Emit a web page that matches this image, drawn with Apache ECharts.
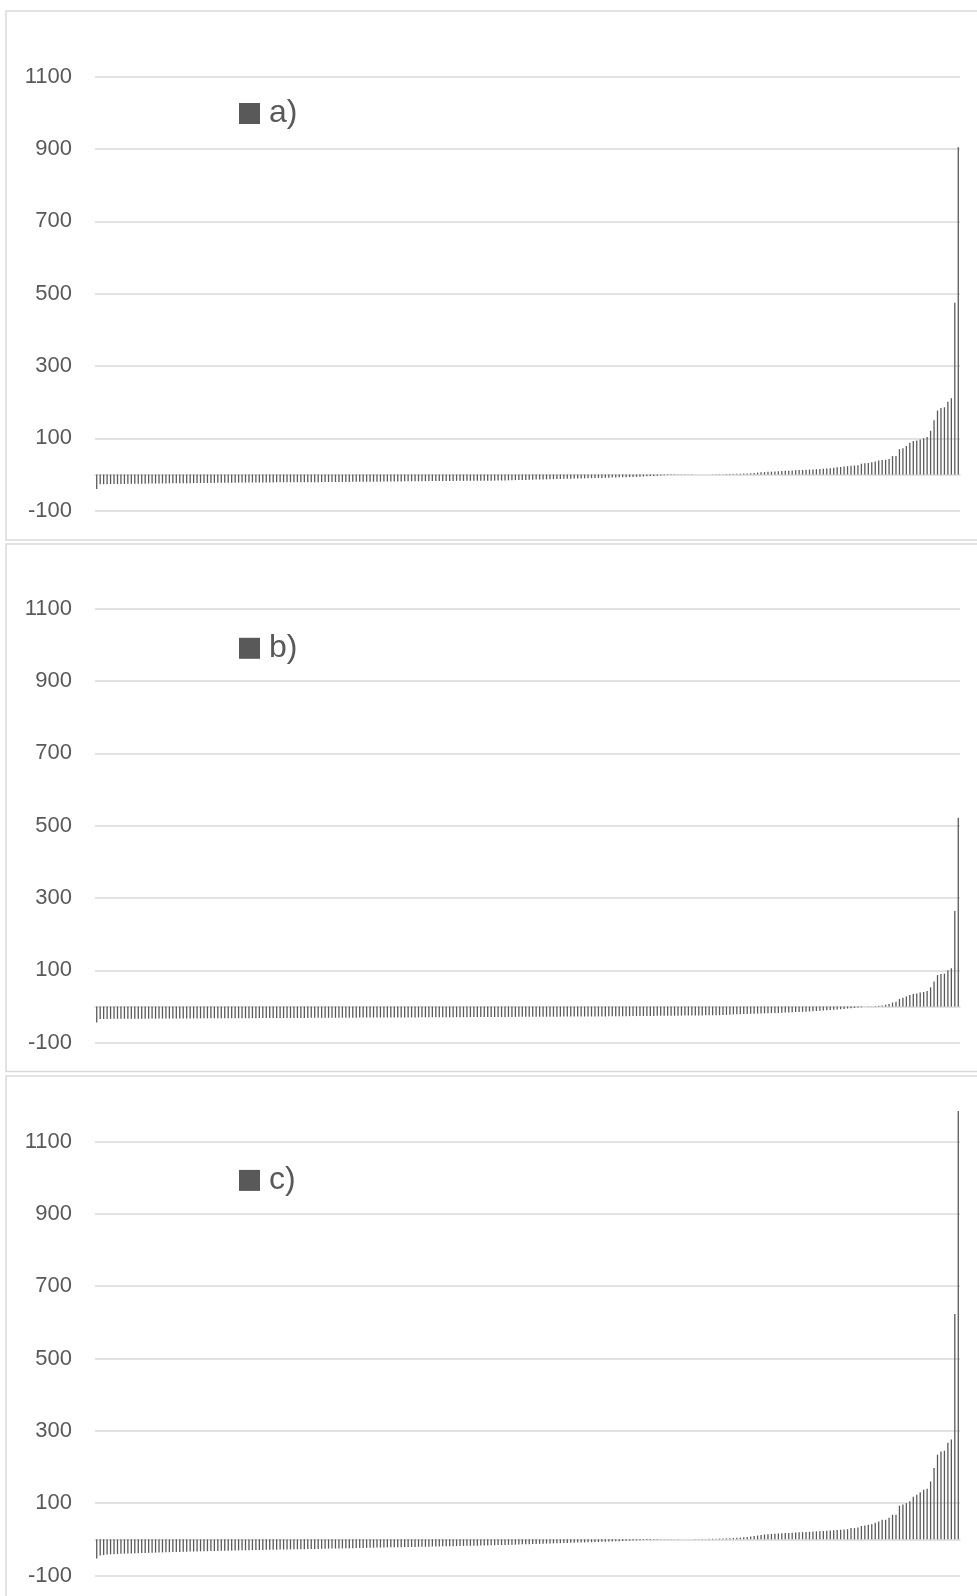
<!DOCTYPE html>
<html>
<head>
<meta charset="utf-8">
<title>Sorted values a) b) c)</title>
<script src="https://cdn.jsdelivr.net/npm/echarts@6/dist/echarts.min.js"></script>
<style>
  html, body { margin: 0; padding: 0; background: #ffffff; }
  #chart { width: 977px; height: 1596px; }
</style>
</head>
<body>
<div id="chart"></div>
<script>
// Series names shown in each panel's legend
const seriesNames = ['a)', 'b)', 'c)'];

// Y axis scale shared by the three panels
const yMin = -100;
const yMax = 1100;
const yStep = 200;

// Sorted values, panel a)
const valuesA = [
  -40, -27, -26.8, -26.6, -26.5, -26.3, -26.2, -26, -25.9, -25.8,
  -25.6, -25.5, -25.4, -25.3, -25.2, -25, -24.9, -24.8, -24.7, -24.6,
  -24.5, -24.4, -24.3, -24.2, -24.1, -24, -23.9, -23.8, -23.7, -23.6,
  -23.5, -23.4, -23.3, -23.2, -23.1, -23, -22.9, -22.8, -22.7, -22.6,
  -22.5, -22.4, -22.3, -22.2, -22.1, -22, -22, -21.9, -21.9, -21.8,
  -21.8, -21.7, -21.6, -21.6, -21.5, -21.5, -21.4, -21.3, -21.3, -21.2,
  -21.2, -21.1, -21.1, -21, -21, -20.9, -20.8, -20.8, -20.7, -20.6,
  -20.5, -20.5, -20.4, -20.3, -20.2, -20.1, -20.1, -20, -19.9, -19.8,
  -19.7, -19.7, -19.6, -19.5, -19.4, -19.3, -19.2, -19.1, -19, -18.9,
  -18.8, -18.7, -18.6, -18.5, -18.4, -18.3, -18.2, -18.1, -18, -17.9,
  -17.9, -17.8, -17.7, -17.6, -17.5, -17.5, -17.4, -17.3, -17.3, -17.2,
  -17.1, -17.1, -17, -17, -16.9, -16.8, -16.6, -16.5, -16.2, -16,
  -15.8, -15.5, -15.3, -15, -14.8, -14.5, -14.3, -14, -13.8, -13.5,
  -13.3, -13, -12.8, -12.5, -12.3, -12, -11.8, -11.5, -11.3, -11,
  -10.8, -10.5, -10.3, -10, -9.8, -9.5, -9.3, -9, -8.7, -8.4,
  -8.1, -7.8, -7.5, -7.2, -6.9, -6.6, -6.3, -6, -5.5, -5,
  -4.4, -3.8, -3.2, -2.6, -2.1, -1.7, -1.4, -1.1, -0.9, -0.7,
  -0.5, -0.4, -0.3, -0.2, -0.1, 0.1, 0.2, 0.3, 0.5, 0.7,
  0.9, 1.1, 1.3, 1.5, 1.8, 2.1, 2.4, 2.8, 3.2, 3.6,
  4.5, 5.5, 6.2, 6.8, 7.4, 8, 8.6, 9.2, 9.8, 10.3,
  10.8, 11.3, 11.8, 12.3, 12.8, 13.2, 13.7, 14.2, 14.7, 15.2,
  15.8, 16.5, 17.2, 18.5, 19.8, 21, 22, 23,
  24.2, 25, 26, 30, 31, 32, 34, 36, 39, 40,
  41, 43, 51, 51, 70, 73, 79, 88, 93, 94,
  97, 100, 104, 121, 150, 177, 184, 186, 201, 211,
  475, 905
];

// Sorted values, panel b)
const valuesB = [
  -44, -34.5, -34.3, -34.2, -34.1, -34, -34, -33.9, -33.8, -33.8,
  -33.7, -33.7, -33.6, -33.6, -33.5, -33.5, -33.4, -33.4, -33.3, -33.3,
  -33.2, -33.2, -33.1, -33.1, -33, -33, -32.9, -32.9, -32.8, -32.8,
  -32.7, -32.7, -32.6, -32.6, -32.5, -32.5, -32.5, -32.4, -32.4, -32.3,
  -32.3, -32.3, -32.2, -32.2, -32.1, -32.1, -32.1, -32, -32, -32,
  -31.9, -31.9, -31.8, -31.8, -31.7, -31.7, -31.6, -31.6, -31.5, -31.5,
  -31.4, -31.4, -31.3, -31.3, -31.2, -31.2, -31.1, -31.1, -31, -31,
  -30.9, -30.9, -30.8, -30.8, -30.7, -30.7, -30.6, -30.6, -30.5, -30.5,
  -30.4, -30.4, -30.3, -30.3, -30.3, -30.2, -30.2, -30.2, -30.1, -30.1,
  -30.1, -30, -30, -30, -29.9, -29.9, -29.8, -29.8, -29.7, -29.7,
  -29.6, -29.6, -29.5, -29.5, -29.4, -29.4, -29.3, -29.3, -29.2, -29.2,
  -29.1, -29.1, -29, -29, -28.9, -28.9, -28.8, -28.8, -28.7, -28.7,
  -28.6, -28.6, -28.5, -28.5, -28.4, -28.4, -28.3, -28.3, -28.2, -28.2,
  -28.1, -28.1, -28, -28, -27.9, -27.9, -27.8, -27.8, -27.7, -27.7,
  -27.6, -27.6, -27.5, -27.5, -27.4, -27.4, -27.3, -27.3, -27.2, -27.1,
  -27, -26.9, -26.8, -26.7, -26.6, -26.5, -26.4, -26.3, -26.2, -26.1,
  -26, -25.9, -25.8, -25.7, -25.6, -25.5, -25.4, -25.3, -25.2, -25.1,
  -25, -24.9, -24.8, -24.7, -24.6, -24.5, -24.4, -24.3, -24.2, -24.1,
  -24, -23.5, -23, -22.5, -22, -21.6, -21.2, -20.8, -20.4, -20,
  -19.7, -19.4, -19.1, -18.8, -18.5, -18.2, -18, -17.6, -17.2, -16.7,
  -16.2, -15.8, -15.3, -14.9, -14.5, -14.2, -13.8, -13.1, -12.4, -11.7,
  -11, -10.3, -9.6, -9, -8.4, -7.6, -6.6, -5.6, -4.7, -3.8,
  -2.9, -2, 0.3, 0.6, 1, 1.5, 2.2, 3, 5, 7,
  11, 13, 21, 24, 28, 32, 35, 36, 39, 40,
  43, 53, 69, 87, 90, 91, 100, 106, 264, 522
];

// Sorted values, panel c)
const valuesC = [
  -53, -45, -43, -42, -41.5, -41, -40.5, -40, -39.5, -39.2,
  -38.9, -38.6, -38.3, -38, -37.7, -37.4, -37.1, -36.8, -36.5, -36.2,
  -35.9, -35.6, -35.3, -35, -34.7, -34.4, -34.1, -33.9, -33.7, -33.5,
  -33.2, -33, -32.8, -32.5, -32.3, -32.1, -31.8, -31.6, -31.3, -31.1,
  -30.9, -30.6, -30.4, -30.2, -30, -29.8, -29.6, -29.4, -29.2, -29,
  -28.8, -28.6, -28.5, -28.3, -28.1, -28, -27.8, -27.6, -27.5, -27.3,
  -27.2, -27, -26.8, -26.6, -26.4, -26.2, -26, -25.8, -25.6, -25.4,
  -25.2, -25, -24.8, -24.6, -24.4, -24.2, -24, -23.8, -23.6, -23.3,
  -23.1, -22.9, -22.7, -22.5, -22.3, -22.2, -22, -21.8, -21.6, -21.4,
  -21.3, -21.1, -20.9, -20.7, -20.5, -20.4, -20.2, -20, -19.8, -19.6,
  -19.4, -19.2, -19, -18.8, -18.6, -18.4, -18.2, -18, -17.8, -17.6,
  -17.4, -17.2, -17, -16.8, -16.6, -16.3, -16, -15.7, -15.4, -15.1,
  -14.8, -14.5, -14.2, -13.9, -13.6, -13.3, -13, -12.7, -12.4, -12.1,
  -11.8, -11.5, -11.2, -10.9, -10.6, -10.3, -10, -9.7, -9.4, -9.1,
  -8.8, -8.5, -8.2, -7.9, -7.6, -7.3, -7, -6.6, -6.2, -5.8,
  -5.4, -5, -4.6, -4.2, -3.8, -3.4, -3, -2.6, -2.2, -1.8,
  -1.5, -1.2, -1, -0.8, -0.6, -0.5, -0.4, -0.3, -0.2, -0.1,
  0.1, 0.2, 0.4, 0.6, 0.8, 1, 1.2, 1.4, 1.6, 1.8,
  2, 2.3, 2.6, 3, 3.5, 4.2, 5, 5.8, 6.6, 7.5,
  9, 10.5, 12, 13.5, 14.3, 15, 15.6, 16.2, 16.8, 17.3,
  17.8, 18.3, 18.8, 19.3, 19.8, 20.3, 20.8, 21.4, 22, 22.6,
  23.2, 23.8, 24.4, 25, 25.8, 26.6, 27.3,
  28, 31, 31, 33, 37, 38, 40, 42, 46, 49,
  54, 54, 60, 68, 68, 93, 96, 100, 105, 118,
  123, 130, 137, 140, 160, 197, 234, 243, 245, 267,
  276, 623, 1184
];

// Rank of each value along the horizontal axis
const categories = valuesA.map((_, i) => String(i + 1));

const panelValues = [valuesA, valuesB, valuesC];

// Panel layout (pixels)
const gridLeft = 95;
const gridWidth = 865;
const gridHeight = 434;
const gridTops = [76.7, 608.7, 1141.5];
const legendCenters = [113.5, 648.3, 1180.4];
const frames = [
  { y: 11, h: 529 },
  { y: 544, h: 527.5 },
  { y: 1076, h: 600 }
];

const textColor = '#595959';
const barColor = '#595959';
const lineColor = '#d9d9d9';
const fontFamily = '"Liberation Sans", Arial, sans-serif';

const chart = echarts.init(document.getElementById('chart'), null, { renderer: 'canvas' });

const option = {
  animation: false,
  backgroundColor: '#ffffff',
  graphic: frames.map(f => ({
    type: 'rect',
    silent: true,
    z: -10,
    shape: { x: 6, y: f.y, width: 1000, height: f.h },
    style: { fill: 'none', stroke: lineColor, lineWidth: 1.5 }
  })),
  legend: seriesNames.map((name, k) => ({
    data: [name],
    left: 239,
    top: legendCenters[k] - 17,
    padding: 0,
    itemWidth: 21,
    itemHeight: 21,
    icon: 'rect',
    selectedMode: false,
    textStyle: {
      color: textColor,
      fontFamily: fontFamily,
      fontSize: 32,
      lineHeight: 34,
      padding: [0, 0, 0, 4]
    }
  })),
  grid: gridTops.map(t => ({
    left: gridLeft,
    top: t,
    width: gridWidth,
    height: gridHeight,
    containLabel: false
  })),
  xAxis: gridTops.map((_, k) => ({
    type: 'category',
    gridIndex: k,
    data: categories,
    boundaryGap: true,
    axisTick: { show: false },
    axisLabel: { show: false },
    splitLine: { show: false },
    axisLine: { show: true, onZero: true, lineStyle: { color: lineColor, width: 1.5 } }
  })),
  yAxis: gridTops.map((_, k) => ({
    type: 'value',
    gridIndex: k,
    min: yMin,
    max: yMax,
    interval: yStep,
    axisLine: { show: false },
    axisTick: { show: false },
    axisLabel: {
      color: textColor,
      fontFamily: fontFamily,
      fontSize: 22,
      margin: 23,
      formatter: v => String(v)
    },
    splitLine: { show: true, lineStyle: { color: lineColor, width: 1.5 } }
  })),
  series: panelValues.map((vals, k) => ({
    name: seriesNames[k],
    type: 'bar',
    xAxisIndex: k,
    yAxisIndex: k,
    data: vals,
    barWidth: 1.3,
    clip: false,
    silent: true,
    itemStyle: { color: barColor }
  }))
};

chart.setOption(option);
</script>
</body>
</html>
